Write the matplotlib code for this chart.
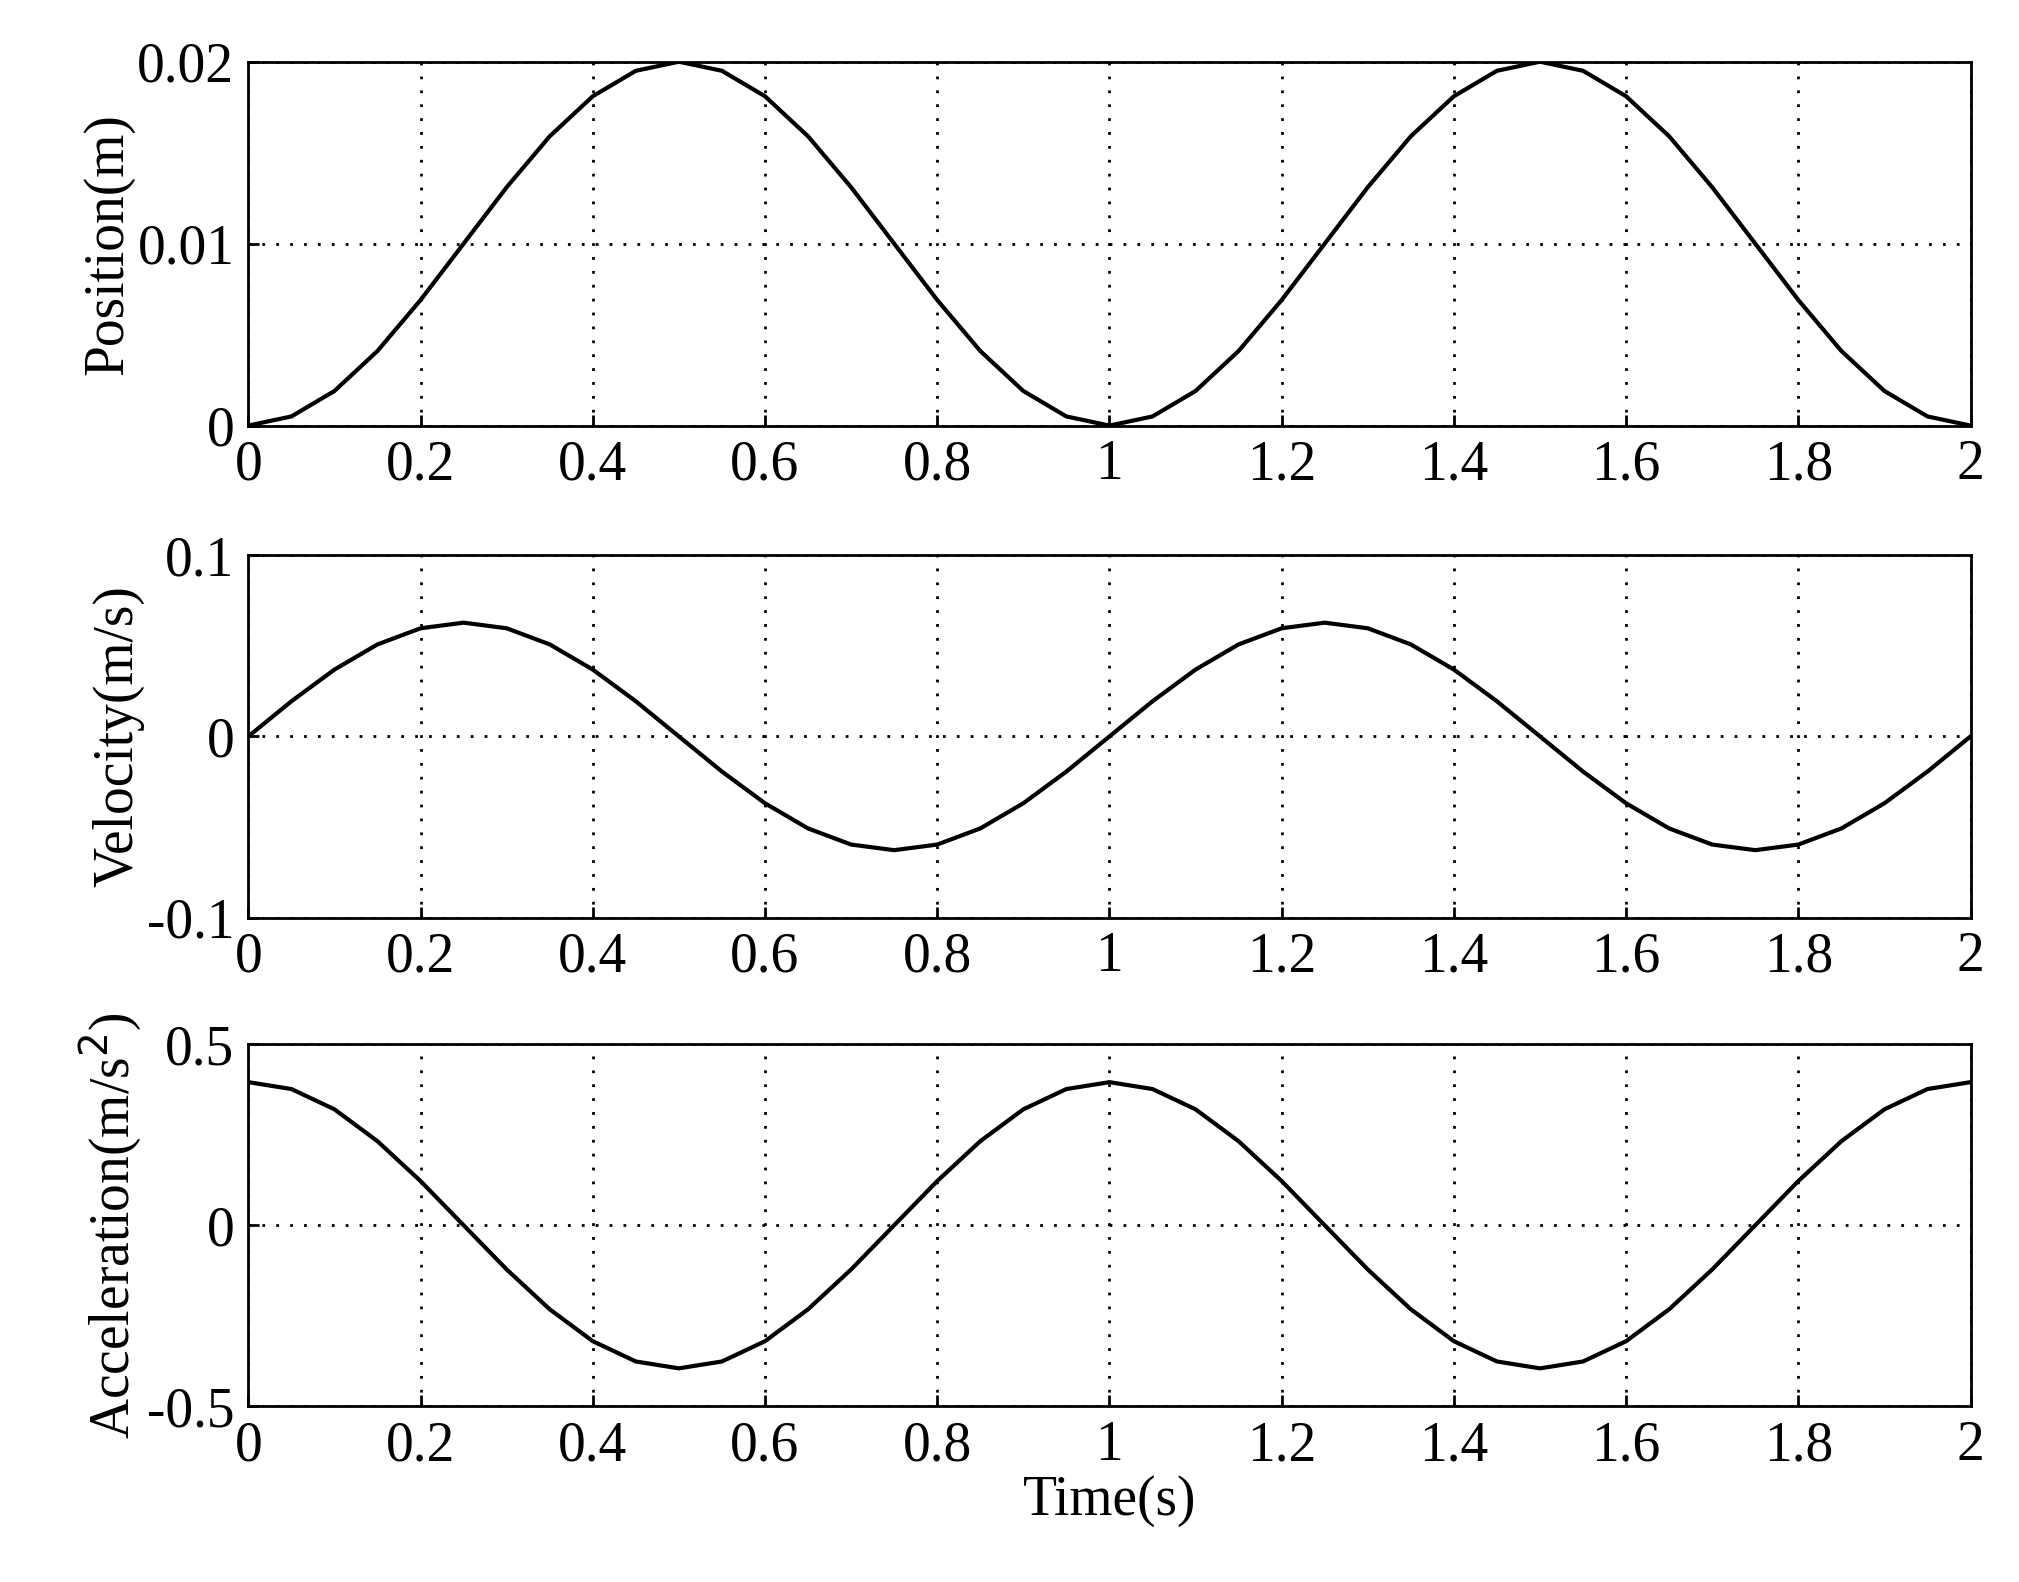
import numpy as np
import matplotlib.pyplot as plt

plt.rcParams['font.family'] = ['Liberation Serif', 'DejaVu Serif']

# time samples (s)
time = [i * 0.05 for i in range(41)]

# values, one period then repeated
pos_half = [0.0, 0.0005, 0.0019, 0.0041, 0.0069, 0.0100, 0.0131, 0.0159, 0.0181, 0.0195, 0.0200,
            0.0195, 0.0181, 0.0159, 0.0131, 0.0100, 0.0069, 0.0041, 0.0019, 0.0005]
position = pos_half + pos_half + [0.0]

vel_half = [0.0, 0.0194, 0.0369, 0.0508, 0.0597, 0.0628, 0.0597, 0.0508, 0.0369, 0.0194, 0.0,
            -0.0194, -0.0369, -0.0508, -0.0597, -0.0628, -0.0597, -0.0508, -0.0369, -0.0194]
velocity = vel_half + vel_half + [0.0]

acc_half = [0.395, 0.376, 0.320, 0.232, 0.122, 0.0, -0.122, -0.232, -0.320, -0.376, -0.395,
            -0.376, -0.320, -0.232, -0.122, 0.0, 0.122, 0.232, 0.320, 0.376]
acceleration = acc_half + acc_half + [0.395]

panels = [
    (position, 'Position(m)', [0, 0.01, 0.02], ['0', '0.01', '0.02'], (0, 0.02)),
    (velocity, 'Velocity(m/s)', [-0.1, 0, 0.1], ['-0.1', '0', '0.1'], (-0.1, 0.1)),
    (acceleration, 'Acceleration(m/s$^2$)', [-0.5, 0, 0.5], ['-0.5', '0', '0.5'], (-0.5, 0.5)),
]
xticks = [0, 0.2, 0.4, 0.6, 0.8, 1, 1.2, 1.4, 1.6, 1.8, 2]
xlabels = ['0', '0.2', '0.4', '0.6', '0.8', '1', '1.2', '1.4', '1.6', '1.8', '2']

fig = plt.figure(figsize=(20.19, 15.82), dpi=100)
boxes = [(0.731, 0.961), (0.420, 0.649), (0.111, 0.340)]
left, right = 0.123, 0.976

for (vals, label, yt, ytl, ylim), (b, t) in zip(panels, boxes):
    ax = fig.add_axes([left, b, right - left, t - b])
    ax.plot(time, vals, color='black', lw=3)
    ax.set_xlim(0, 2)
    ax.set_ylim(*ylim)
    ax.set_xticks(xticks)
    ax.set_xticklabels(xlabels)
    ax.set_yticks(yt)
    ax.set_yticklabels(ytl)
    ax.grid(True, color='black', linestyle=(0, (1, 4)), lw=2)
    ax.tick_params(direction='in', labelsize=40, length=8, width=2, pad=10)
    for s in ax.spines.values():
        s.set_linewidth(2)
    ax.set_ylabel(label, fontsize=40, labelpad=2)

ax.set_xlabel('Time(s)', fontsize=40, labelpad=2)
fig.savefig('out.png', dpi=100)
